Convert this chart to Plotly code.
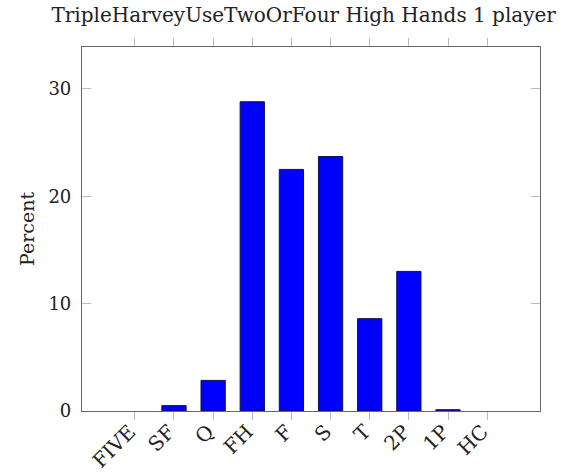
import plotly.graph_objects as go

categories = ["FIVE", "SF", "Q", "FH", "F", "S", "T", "2P", "1P", "HC"]
percent = [0.0, 0.5, 2.85, 28.8, 22.5, 23.7, 8.6, 13.0, 0.12, 0.0]
y_ticks = [0, 10, 20, 30]
title_text = "TripleHarveyUseTwoOrFour High Hands 1 player"
y_title = "Percent"

xpos = list(range(len(categories)))
# no outline drawn for empty bars (as in the reference)
outline_widths = [1 if v > 0 else 0 for v in percent]

fig = go.Figure(
    go.Bar(
        x=xpos,
        y=percent,
        width=0.62,
        marker=dict(color="#0000ff", line=dict(color="#10104a", width=outline_widths)),
    )
)

font_family = "DejaVu Serif, Liberation Serif, serif"
text_color = "#222222"

fig.update_layout(
    width=584,
    height=473,
    margin=dict(l=82, r=44, t=47, b=62),
    paper_bgcolor="white",
    plot_bgcolor="white",
    showlegend=False,
    font=dict(family=font_family, color=text_color, size=18),
    title=dict(
        text=title_text,
        x=0.52,
        xanchor="center",
        y=0.968,
        yanchor="middle",
        font=dict(family=font_family, size=20, color=text_color),
    ),
)

fig.update_xaxes(
    range=[-1.35, 10.35],
    tickmode="array",
    tickvals=xpos,
    ticktext=categories,
    tickangle=-45,
    ticks="outside",
    ticklen=8,
    tickcolor="#bbbbbb",
    tickwidth=1,
    showline=True,
    linecolor="#666666",
    linewidth=1.2,
    mirror="allticks",
    showgrid=False,
    zeroline=False,
    automargin=False,
    ticklabelstandoff=-8,
    ticklabelshift=-5,
    tickfont=dict(family=font_family, size=20, color=text_color),
)

fig.update_yaxes(
    range=[0, 33.9],
    tickmode="array",
    tickvals=y_ticks,
    ticktext=[str(v) for v in y_ticks],
    ticks="inside",
    ticklen=9,
    tickcolor="#bbbbbb",
    tickwidth=1,
    showline=True,
    linecolor="#666666",
    linewidth=1.2,
    mirror="allticks",
    showgrid=False,
    zeroline=False,
    automargin=False,
    ticklabelstandoff=6,
    tickfont=dict(family=font_family, size=18, color=text_color),
    title=dict(text=y_title, font=dict(family=font_family, size=19, color=text_color), standoff=8),
)

# remove the browser's default page margin so the figure sits at the window's corner
fig.write_html(
    "out.html",
    config={"displayModeBar": False},
    post_script="document.body.style.margin='0';",
)
